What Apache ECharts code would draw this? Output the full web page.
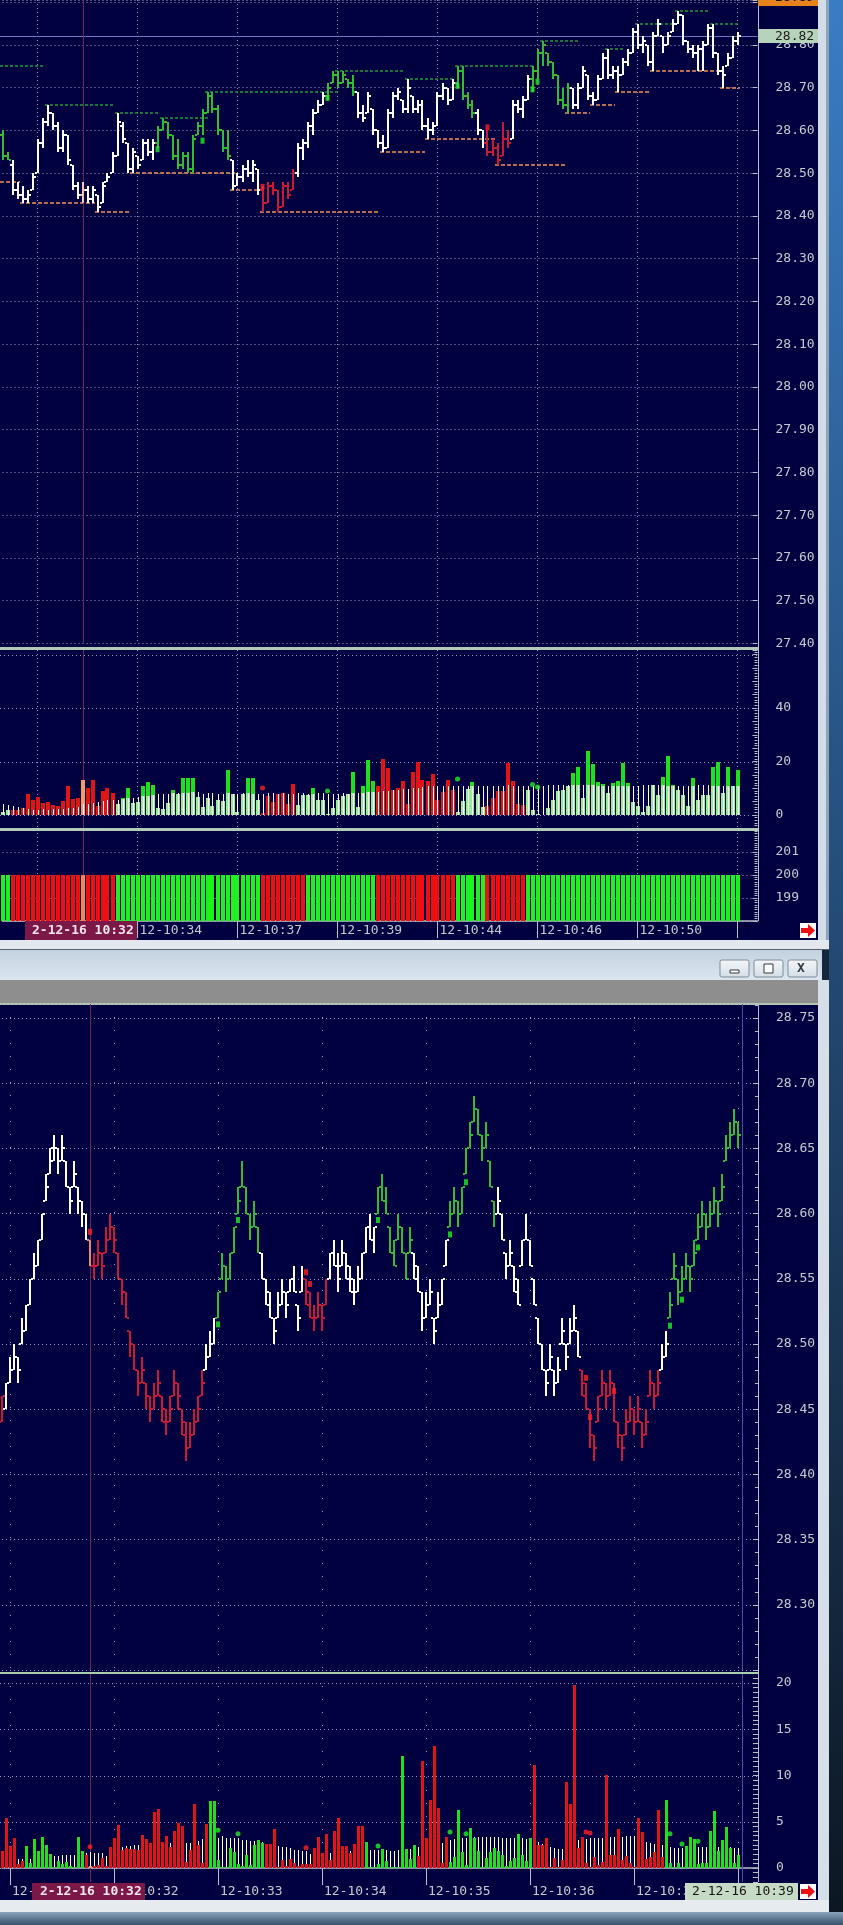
<!DOCTYPE html>
<html><head><meta charset="utf-8"><title>chart</title>
<script src="https://cdn.jsdelivr.net/npm/echarts@6/dist/echarts.min.js"></script>
<style>html,body{margin:0;padding:0;background:#13263a;overflow:hidden}#c{width:843px;height:1925px}</style>
</head><body><div id="c"></div><script>
// ===================== DATA =====================
// Top window: OHLC per bar [open, high, low, close]
const topOHLC = [
[28.59,28.60,28.53,28.54],[28.54,28.55,28.53,28.53],[28.52,28.53,28.45,28.46],[28.46,28.48,28.44,28.45],[28.45,28.47,28.43,28.44],
[28.44,28.46,28.43,28.45],[28.46,28.50,28.46,28.49],[28.50,28.58,28.50,28.57],[28.57,28.63,28.56,28.62],[28.62,28.66,28.61,28.64],
[28.64,28.64,28.60,28.61],[28.61,28.62,28.55,28.56],[28.56,28.60,28.55,28.59],[28.59,28.59,28.52,28.53],[28.52,28.52,28.46,28.47],
[28.47,28.48,28.44,28.45],[28.45,28.48,28.43,28.46],[28.46,28.47,28.43,28.44],[28.44,28.47,28.43,28.46],[28.45,28.45,28.41,28.42],
[28.43,28.48,28.43,28.47],[28.48,28.50,28.48,28.49],[28.50,28.55,28.50,28.54],[28.54,28.64,28.54,28.62],[28.61,28.62,28.57,28.58],
[28.57,28.57,28.50,28.51],[28.51,28.56,28.50,28.55],[28.54,28.54,28.51,28.52],[28.53,28.58,28.53,28.57],[28.57,28.58,28.54,28.55],
[28.55,28.58,28.53,28.57],[28.57,28.61,28.56,28.60],[28.60,28.63,28.60,28.62],[28.62,28.62,28.58,28.59],[28.59,28.59,28.53,28.54],
[28.54,28.58,28.51,28.52],[28.52,28.55,28.51,28.54],[28.54,28.55,28.50,28.51],[28.51,28.59,28.50,28.58],[28.59,28.62,28.59,28.61],
[28.61,28.65,28.59,28.64],[28.64,28.69,28.64,28.68],[28.68,28.69,28.64,28.65],[28.65,28.66,28.59,28.60],[28.60,28.60,28.55,28.56],
[28.56,28.60,28.53,28.54],[28.53,28.53,28.46,28.47],[28.47,28.50,28.47,28.49],[28.49,28.52,28.48,28.51],[28.51,28.53,28.49,28.50],
[28.50,28.53,28.48,28.52],[28.51,28.51,28.45,28.46],[28.46,28.47,28.41,28.43],[28.43,28.48,28.43,28.47],[28.47,28.48,28.45,28.46],
[28.46,28.46,28.41,28.42],[28.42,28.48,28.42,28.47],[28.47,28.48,28.44,28.45],[28.46,28.51,28.46,28.50],[28.50,28.57,28.49,28.56],
[28.56,28.58,28.53,28.57],[28.57,28.62,28.56,28.61],[28.61,28.65,28.59,28.64],[28.64,28.67,28.64,28.66],[28.66,28.69,28.66,28.68],
[28.68,28.71,28.67,28.70],[28.71,28.74,28.71,28.73],[28.73,28.74,28.70,28.71],[28.71,28.74,28.71,28.73],[28.72,28.72,28.70,28.71],
[28.71,28.73,28.68,28.69],[28.69,28.69,28.63,28.64],[28.64,28.66,28.62,28.63],[28.64,28.69,28.64,28.68],[28.65,28.65,28.59,28.60],
[28.60,28.60,28.56,28.57],[28.57,28.59,28.55,28.56],[28.56,28.65,28.56,28.64],[28.64,28.69,28.63,28.68],[28.68,28.70,28.67,28.69],
[28.67,28.67,28.64,28.65],[28.65,28.72,28.64,28.70],[28.68,28.68,28.64,28.65],[28.65,28.67,28.64,28.66],[28.66,28.67,28.60,28.61],
[28.61,28.63,28.58,28.60],[28.60,28.62,28.59,28.61],[28.61,28.69,28.61,28.68],[28.68,28.71,28.67,28.70],[28.70,28.70,28.66,28.67],
[28.67,28.72,28.67,28.71],[28.71,28.75,28.70,28.74],[28.74,28.75,28.67,28.68],[28.68,28.69,28.65,28.66],[28.66,28.67,28.63,28.64],
[28.64,28.65,28.59,28.60],[28.60,28.60,28.56,28.57],[28.57,28.60,28.54,28.55],[28.55,28.58,28.54,28.56],[28.56,28.57,28.52,28.53],
[28.54,28.62,28.54,28.58],[28.58,28.60,28.56,28.57],[28.58,28.67,28.58,28.66],[28.66,28.67,28.64,28.65],[28.65,28.68,28.63,28.67],
[28.67,28.73,28.67,28.72],[28.72,28.75,28.69,28.74],[28.74,28.79,28.72,28.78],[28.78,28.81,28.75,28.80],[28.78,28.78,28.75,28.76],
[28.76,28.76,28.72,28.73],[28.73,28.73,28.66,28.67],[28.67,28.70,28.65,28.66],[28.66,28.71,28.64,28.70],[28.70,28.70,28.65,28.66],
[28.66,28.71,28.65,28.70],[28.70,28.75,28.70,28.74],[28.73,28.73,28.67,28.68],[28.68,28.69,28.66,28.67],[28.67,28.73,28.67,28.72],
[28.72,28.78,28.72,28.77],[28.77,28.79,28.72,28.73],[28.73,28.75,28.72,28.74],[28.74,28.75,28.69,28.73],[28.73,28.77,28.73,28.76],
[28.76,28.79,28.75,28.78],[28.78,28.84,28.78,28.83],[28.83,28.85,28.79,28.80],[28.80,28.82,28.78,28.81],[28.80,28.80,28.75,28.76],
[28.76,28.83,28.74,28.82],[28.82,28.86,28.82,28.85],[28.82,28.82,28.78,28.80],[28.80,28.83,28.80,28.82],[28.83,28.86,28.83,28.85],
[28.85,28.88,28.85,28.87],[28.87,28.87,28.80,28.81],[28.81,28.81,28.78,28.79],[28.79,28.80,28.77,28.78],[28.78,28.80,28.74,28.79],
[28.79,28.81,28.74,28.80],[28.80,28.85,28.80,28.84],[28.84,28.85,28.77,28.78],[28.78,28.78,28.73,28.74],[28.74,28.75,28.70,28.73],
[28.75,28.78,28.75,28.77],[28.77,28.82,28.77,28.81],[28.81,28.83,28.80,28.82]
];
// bar colour runs (w white, g green, r red)
const topBarColorRuns = [['g',2],['w',29],['g',15],['w',6],['r',7],['w',6],['g',6],['w',20],['g',4],['w',2],['r',5],['w',4],['g',8],['w',34]];
// resistance (green dashed) and support (orange dashed): [fromBar, toBar, price]
const topResistance = [[0,8,28.75],[9,22,28.66],[23,31,28.64],[32,41,28.63],[41,67,28.69],[67,80,28.74],[81,90,28.72],[91,106,28.75],[108,115,28.81],[121,124,28.79],[127,134,28.85],[135,141,28.88],[142,147,28.85]];
const topSupport = [[0,3,28.48],[4,18,28.43],[19,25,28.41],[26,46,28.50],[46,51,28.46],[52,75,28.41],[76,84,28.55],[85,98,28.58],[99,112,28.52],[113,117,28.64],[118,122,28.66],[123,129,28.69],[130,143,28.74],[144,147,28.70]];
// signal markers [bar, price, colour]
const topMarkers = [[31,28.556,'g'],[40,28.576,'g'],[52,28.468,'r'],[65,28.676,'g'],[91,28.704,'g'],[97,28.607,'r'],[106,28.696,'g'],[107,28.714,'g']];
const topLastPrice = 28.82;
const topHighPrice = 28.89;
const topCursor = 16;
// top volume
const topVol = [1.2,2.0,1.8,1.8,2.5,7.8,5.5,6.8,4.6,4.9,
3.7,3.3,5.3,10.7,5.9,6.5,13.0,10.0,13.0,3.3,
9.0,10.0,8.4,4.3,6.2,10.0,4.6,4.9,11.0,12.3,
11.4,2.5,2.1,4.6,9.3,7.7,13.8,13.8,13.8,6.8,
3.0,6.2,3.3,5.8,5.3,17.0,8.0,1.2,7.8,14.0,
14.0,5.6,0.6,7.0,5.0,8.0,8.3,4.3,11.5,3.7,
7.4,7.4,10.2,5.8,5.6,0.3,2.5,5.6,7.0,8.0,
16.0,3.1,11.0,20.4,12.7,10.7,20.9,17.4,9.3,10.1,
12.7,4.0,16.0,19.8,13.2,12.7,15.2,5.8,8.6,13.0,
9.3,1.2,5.2,9.9,12.2,7.8,3.1,3.5,6.2,9.0,
9.0,19.4,12.7,4.0,3.7,9.5,1.9,0.3,0.1,2.5,
5.8,9.0,9.3,10.7,15.7,18.1,6.2,24.1,18.9,12.2,
11.5,8.3,12.0,12.7,19.5,12.0,4.9,3.3,1.2,3.3,
11.1,7.4,14.4,22.2,11.1,9.5,7.4,3.5,14.0,5.6,
7.4,7.4,18.1,19.9,8.3,18.1,10.7,16.9];
const topVolAvg = [4.3,3.7,3.3,3.0,2.8,2.1,1.9,1.9,2.1,1.9,
2.1,2.1,2.3,2.5,2.8,3.1,4.3,4.3,4.6,4.9,
5.2,5.6,5.6,5.8,6.0,6.4,6.5,6.7,7.0,7.2,
7.4,8.0,7.7,8.0,8.1,8.2,8.3,8.4,8.5,8.6,
8.0,8.1,8.1,8.0,8.0,8.2,8.0,8.0,8.1,8.1,
8.0,8.0,8.0,8.1,8.2,8.0,8.1,8.0,8.0,8.1,
8.1,8.0,8.0,8.1,8.1,7.9,8.0,8.0,8.1,8.0,
8.2,8.3,8.4,8.5,8.6,8.6,8.8,9.0,9.2,9.4,
9.6,9.8,10.0,10.2,10.5,10.7,10.8,10.9,10.9,11.0,
11.0,11.0,11.0,10.9,10.9,10.8,10.8,10.9,10.9,11.0,
11.0,11.1,11.0,11.0,10.8,10.8,10.9,11.0,11.0,11.1,
11.1,11.2,11.2,11.3,11.3,11.2,11.2,11.1,11.1,11.0,
11.0,11.0,10.9,10.9,10.8,10.8,10.9,11.0,11.1,11.1,
11.2,11.2,11.1,11.0,11.0,10.9,10.9,11.0,11.0,11.1,
11.1,11.1,11.0,11.0,10.9,10.9,10.8,10.8];
const topVolColorRuns = [['g',2],['r',21],['g',29],['r',7],['g',16],['r',16],['g',6],['r',8],['g',43]];
const topVolDots = [[52,10.1,'r'],[65,9.0,'g'],[91,13.5,'g'],[106,11.4,'g'],[107,10.5,'g']];
const topVolGridVals = [0,20,40,60];
// top state band (value 200)
const topBandColorRuns = [['g',2],['r',21],['g',29],['r',9],['g',14],['r',16],['g',6],['r',8],['g',43]];
const topBandLevel = 200;
// top time axis: [bar, label]
const topTimeLabels = [[7,'12-10:32'],[27,'12-10:34'],[47,'12-10:37'],[67,'12-10:39'],[87,'12-10:44'],[107,'12-10:46'],[127,'12-10:50']];
const topGridBars = [7,27,47,67,87,107,127,147];
const topCursorLabel = '2-12-16 10:32';

// Bottom window
const botOHLC = [
[28.44,28.46,28.44,28.46],[28.45,28.47,28.45,28.47],[28.47,28.49,28.47,28.48],[28.48,28.50,28.48,28.49],[28.49,28.49,28.47,28.48],
[28.50,28.52,28.50,28.51],[28.51,28.53,28.51,28.53],[28.53,28.55,28.53,28.55],[28.55,28.57,28.55,28.56],[28.56,28.58,28.56,28.58],
[28.58,28.60,28.58,28.60],[28.61,28.63,28.61,28.62],[28.63,28.65,28.63,28.65],[28.64,28.66,28.64,28.65],[28.65,28.65,28.63,28.64],
[28.64,28.66,28.64,28.65],[28.64,28.64,28.62,28.62],[28.62,28.62,28.60,28.61],[28.62,28.64,28.62,28.63],[28.62,28.62,28.60,28.61],
[28.61,28.61,28.59,28.60],[28.60,28.60,28.58,28.58],[28.58,28.58,28.56,28.56],[28.56,28.57,28.55,28.56],[28.56,28.58,28.56,28.57],
[28.57,28.57,28.55,28.56],[28.57,28.59,28.57,28.58],[28.58,28.60,28.58,28.59],[28.59,28.59,28.57,28.58],[28.57,28.57,28.55,28.55],
[28.55,28.55,28.53,28.54],[28.54,28.54,28.52,28.52],[28.51,28.51,28.49,28.50],[28.50,28.50,28.48,28.48],[28.48,28.48,28.46,28.47],
[28.47,28.49,28.47,28.48],[28.47,28.47,28.45,28.46],[28.46,28.46,28.44,28.45],[28.45,28.47,28.45,28.46],[28.46,28.48,28.46,28.47],
[28.46,28.46,28.44,28.44],[28.45,28.45,28.43,28.44],[28.44,28.46,28.44,28.45],[28.46,28.48,28.46,28.47],[28.47,28.47,28.45,28.46],
[28.45,28.45,28.43,28.43],[28.44,28.44,28.41,28.42],[28.42,28.44,28.42,28.43],[28.43,28.45,28.43,28.44],[28.44,28.46,28.44,28.45],
[28.46,28.48,28.46,28.47],[28.48,28.50,28.48,28.49],[28.49,28.51,28.49,28.50],[28.50,28.52,28.50,28.52],[28.52,28.54,28.52,28.54],
[28.55,28.57,28.55,28.56],[28.56,28.56,28.54,28.55],[28.55,28.57,28.55,28.57],[28.57,28.59,28.57,28.59],[28.60,28.62,28.60,28.61],
[28.62,28.64,28.62,28.62],[28.62,28.62,28.60,28.60],[28.60,28.60,28.58,28.59],[28.59,28.61,28.59,28.60],[28.59,28.59,28.57,28.57],
[28.57,28.57,28.55,28.55],[28.55,28.55,28.53,28.53],[28.54,28.54,28.52,28.52],[28.52,28.52,28.50,28.51],[28.52,28.54,28.52,28.53],
[28.53,28.55,28.53,28.54],[28.54,28.54,28.52,28.53],[28.54,28.55,28.54,28.55],[28.55,28.56,28.54,28.54],[28.53,28.53,28.51,28.52],
[28.54,28.56,28.54,28.55],[28.55,28.55,28.53,28.53],[28.54,28.54,28.52,28.52],[28.52,28.53,28.51,28.52],[28.52,28.54,28.52,28.53],
[28.53,28.53,28.51,28.52],[28.53,28.55,28.53,28.55],[28.55,28.57,28.55,28.57],[28.57,28.58,28.56,28.56],[28.56,28.57,28.54,28.55],
[28.56,28.58,28.56,28.57],[28.57,28.57,28.55,28.55],[28.56,28.56,28.54,28.54],[28.55,28.55,28.53,28.54],[28.54,28.56,28.54,28.55],
[28.55,28.57,28.55,28.57],[28.57,28.59,28.57,28.59],[28.59,28.60,28.58,28.58],[28.58,28.59,28.57,28.59],[28.60,28.62,28.60,28.62],
[28.62,28.63,28.61,28.61],[28.61,28.62,28.60,28.60],[28.59,28.59,28.57,28.57],[28.57,28.58,28.56,28.56],[28.58,28.60,28.58,28.59],
[28.59,28.59,28.57,28.57],[28.57,28.57,28.55,28.55],[28.57,28.59,28.57,28.58],[28.57,28.57,28.55,28.55],[28.56,28.56,28.54,28.54],
[28.54,28.54,28.51,28.52],[28.52,28.54,28.52,28.53],[28.53,28.55,28.53,28.54],[28.52,28.52,28.50,28.51],[28.52,28.54,28.52,28.53],
[28.53,28.55,28.53,28.55],[28.56,28.58,28.56,28.58],[28.59,28.61,28.59,28.60],[28.60,28.62,28.60,28.61],[28.61,28.61,28.59,28.60],
[28.60,28.62,28.60,28.62],[28.63,28.65,28.63,28.65],[28.65,28.67,28.65,28.66],[28.67,28.69,28.67,28.68],[28.68,28.68,28.66,28.66],
[28.66,28.66,28.64,28.65],[28.65,28.67,28.65,28.66],[28.64,28.64,28.62,28.62],[28.61,28.61,28.59,28.60],[28.60,28.62,28.60,28.61],
[28.60,28.60,28.58,28.58],[28.57,28.57,28.55,28.56],[28.56,28.58,28.56,28.57],[28.56,28.56,28.54,28.54],[28.55,28.55,28.53,28.53],
[28.56,28.58,28.56,28.58],[28.58,28.60,28.58,28.58],[28.58,28.58,28.56,28.56],[28.55,28.55,28.53,28.53],[28.52,28.52,28.50,28.50],
[28.50,28.50,28.48,28.48],[28.48,28.48,28.46,28.47],[28.48,28.50,28.48,28.49],[28.48,28.48,28.46,28.47],[28.47,28.49,28.47,28.48],
[28.50,28.52,28.50,28.51],[28.50,28.50,28.48,28.49],[28.50,28.52,28.50,28.51],[28.51,28.53,28.51,28.52],[28.51,28.51,28.49,28.49],
[28.48,28.48,28.46,28.46],[28.47,28.47,28.45,28.45],[28.45,28.45,28.42,28.43],[28.43,28.43,28.41,28.42],[28.44,28.46,28.44,28.45],
[28.46,28.48,28.46,28.47],[28.47,28.47,28.45,28.46],[28.46,28.48,28.46,28.47],[28.47,28.47,28.44,28.44],[28.44,28.44,28.42,28.43],
[28.43,28.43,28.41,28.42],[28.43,28.45,28.43,28.44],[28.44,28.46,28.44,28.45],[28.45,28.45,28.43,28.44],[28.44,28.46,28.44,28.45],
[28.44,28.44,28.42,28.43],[28.43,28.45,28.43,28.44],[28.46,28.48,28.46,28.47],[28.47,28.47,28.45,28.46],[28.46,28.48,28.46,28.47],
[28.48,28.50,28.48,28.49],[28.49,28.51,28.49,28.50],[28.52,28.54,28.52,28.53],[28.55,28.57,28.55,28.56],[28.55,28.55,28.53,28.54],
[28.54,28.56,28.54,28.55],[28.55,28.57,28.55,28.56],[28.56,28.56,28.54,28.55],[28.56,28.58,28.56,28.57],[28.58,28.60,28.58,28.59],
[28.59,28.61,28.59,28.60],[28.60,28.60,28.58,28.59],[28.59,28.61,28.59,28.60],[28.60,28.62,28.60,28.61],[28.61,28.61,28.59,28.60],
[28.61,28.63,28.61,28.62],[28.64,28.66,28.64,28.65],[28.65,28.67,28.65,28.66],[28.66,28.68,28.66,28.67],[28.67,28.67,28.65,28.66]
];
const botBarColorRuns = [['r',1],['w',21],['h',1],['r',28],['w',3],['g',11],['w',11],['r',6],['w',12],['g',9],['w',9],['g',12],['w',21],['r',20],['w',2],['g',18]];
const botMarkers = [[22,28.586,'r'],[54,28.515,'g'],[59,28.595,'g'],[76,28.555,'r'],[77,28.546,'r'],[94,28.595,'g'],[112,28.584,'g'],[116,28.624,'g'],[146,28.474,'r'],[147,28.444,'r'],[153,28.464,'r'],[167,28.514,'g'],[170,28.534,'g'],[174,28.574,'g']];
const botCursor = 22;
const botNowBar = 185;
const botVol = [1.8,5.4,2.4,3.2,0.4,0.8,2.4,0.5,3.1,1.9,
3.4,2.5,1.5,0.1,0.8,0.4,0.7,0.2,0.1,3.4,
1.9,1.4,0.2,0.2,0.3,1.1,0.2,2.3,3.2,4.7,
2.0,2.2,2.1,2.1,2.0,3.6,3.1,2.7,6.1,6.4,
2.8,3.5,2.3,4.0,4.9,4.6,0.7,2.0,6.9,2.5,
0.5,4.8,7.2,7.2,0.9,0.1,0.1,2.2,1.7,0.4,
0.2,1.4,0.3,2.5,3.0,2.7,2.6,2.6,4.2,0.1,
0.9,0.2,1.0,0.5,0.2,0.4,0.4,0.4,2.2,3.4,
1.6,3.7,0.9,4.0,5.4,2.4,2.4,1.6,2.6,4.6,
4.6,2.8,0.1,0.1,0.4,2.1,0.8,0.1,0.1,0.1,
12.1,2.1,1.0,2.5,1.3,11.6,3.3,7.4,13.2,6.5,
0.5,3.4,0.7,1.2,6.3,1.7,0.3,4.3,3.2,1.9,
0.1,1.1,1.7,2.2,1.9,1.4,0.2,0.8,1.1,3.7,
1.4,0.8,3.2,11.1,2.5,2.5,3.2,0.1,1.1,0.1,
0.9,9.3,6.9,19.8,2.2,3.4,0.5,0.1,1.2,0.3,
0.7,10.1,1.4,1.4,4.2,0.9,1.3,0.5,0.1,5.4,
3.9,1.0,1.2,1.7,6.3,1.2,7.4,0.5,0.1,0.5,
0.1,2.4,3.4,3.1,0.4,0.6,0.6,4.0,6.2,1.9,
3.0,4.4,2.2,0.6,1.4];
const botVolAvg = [1.0,1.0,1.0,1.0,1.0,1.0,1.0,1.0,1.0,1.0,1.0,1.0,1.0,
1.3,1.3,1.4,1.4,1.4,1.4,1.5,1.5,1.6,1.7,1.6,1.6,1.6,1.3,
2.0,2.1,2.2,2.3,2.4,2.4,2.5,2.5,2.5,2.6,2.6,2.6,2.7,2.7,2.7,2.7,2.8,2.8,2.8,
2.7,2.7,2.8,2.9,3.1,3.1,
3.2,3.3,3.3,3.5,3.3,3.3,3.2,3.2,3.0,3.0,2.9,2.9,2.8,2.8,
2.6,2.5,2.5,2.4,2.3,2.3,2.2,2.0,2.0,1.8,1.8,1.5,
1.6,1.6,1.6,1.6,1.6,1.7,1.8,1.8,1.9,1.9,2.0,2.0,2.0,
2.0,2.0,2.0,2.0,2.0,2.0,1.9,1.9,2.0,2.0,2.0,2.1,2.2,2.3,
2.5,2.6,2.7,2.7,2.7,2.7,2.8,
3.0,3.1,3.2,3.3,3.3,3.3,3.4,3.4,3.4,3.4,3.4,3.4,3.4,3.3,3.2,3.2,3.2,3.2,3.2,3.1,3.1,
3.0,2.8,2.6,2.4,2.3,2.2,2.1,2.1,
2.4,2.6,2.8,3.0,3.1,3.1,3.2,
3.2,3.3,3.3,3.4,3.4,3.4,3.4,3.4,3.5,3.5,3.5,
3.2,3.0,2.8,2.7,2.6,2.5,2.5,2.4,
2.3,2.2,2.2,2.2,2.2,2.2,2.2,2.3,2.3,2.3,2.3,2.3,2.3,2.3,2.3,2.3,2.2,2.2];
const botVolColorRuns = [['r',6],['g',15],['r',1],['h',1],['r',29],['g',14],['r',25],['g',13],['r',8],['g',21],['r',33],['g',19]];
const botVolDots = [[22,2.3,'r'],[54,4.1,'g'],[59,3.7,'g'],[76,2.2,'r'],[94,2.4,'g'],[112,3.9,'g'],[116,3.7,'g'],[146,3.9,'r'],[147,3.8,'r'],[167,3.7,'g'],[170,2.6,'g'],[174,2.9,'g']];
const botVolGridVals = [0,5,10,15,20];
const botTimeLabels = [[2,'12-10:31'],[28,'12-10:32'],[54,'12-10:33'],[80,'12-10:34'],[106,'12-10:35'],[132,'12-10:36'],[158,'12-10:37']];
const botGridBars = [2,28,54,80,106,132,158,184];
const botCursorLabel = '2-12-16 10:32';
const botNowLabel = '2-12-16 10:39';

// ===================== STYLE =====================
const NAVY = '#000040';
const MONO = "'DejaVu Sans Mono','Liberation Mono',monospace";
const AXIS_TXT = '#c6cacf';
const DOT = '#9a9ac2';
const AXLINE = '#b6bec6';
const barColors = {w:'#ffffff', g:'#34bb34', r:'#cc1a32', h:'#f2c4bc'};
const botBarColors = {w:'#ffffff', g:'#34bb34', r:'#cc1a32', h:'#e88a72'};
const volColors = {g:'#1fe01f', r:'#e21414', h:'#f39a6a'};
const PALE = '#98ea98';
const bandColors = {g:'#1ff01f', r:'#ee1010', h:'#f5845a'};
const dotColors = {g:'#22ee22', r:'#ff2020'};

function expand(r){const o=[];r.forEach(([c,n])=>{for(let k=0;k<n;k++)o.push(c);});return o;}
const topBarCodes = expand(topBarColorRuns); topBarCodes[topCursor]='h';
const topVolCodes = expand(topVolColorRuns); topVolCodes[topCursor]='h';
const topBandCodes = expand(topBandColorRuns); topBandCodes[topCursor]='h';
const botBarCodes = expand(botBarColorRuns);
const botVolCodes = expand(botVolColorRuns);

const topCats = Array.from({length:152},(_,i)=>String(i));
const botCats = Array.from({length:190},(_,i)=>String(i));
const topLabelMap = {}; topTimeLabels.forEach(([i,t])=>topLabelMap[i]=t);
const botLabelMap = {}; botTimeLabels.forEach(([i,t])=>botLabelMap[i]=t);
const topGridSet = new Set(topGridBars), botGridSet = new Set(botGridBars);

// ===================== RENDERERS =====================
function ohlcRender(codes, colors, tick){
  return function(params, api){
    const i = api.value(0);
    const ph = api.coord([i, api.value(2)]), pl = api.coord([i, api.value(3)]);
    const po = api.coord([i, api.value(1)]), pc = api.coord([i, api.value(4)]);
    const cx = Math.round(ph[0]);
    const yh = Math.round(ph[1]), yl = Math.round(pl[1]);
    const yo = Math.round(po[1]), yc = Math.round(pc[1]);
    const fill = colors[codes[params.dataIndex]];
    return {type:'group', children:[
      {type:'rect', shape:{x:cx-1,y:yh,width:2,height:Math.max(2,yl-yh)}, style:{fill}},
      {type:'rect', shape:{x:cx-1-tick,y:yo-1,width:tick,height:2}, style:{fill}},
      {type:'rect', shape:{x:cx+1,y:yc-1,width:tick,height:2}, style:{fill}}
    ]};
  };
}
function srRender(color, dash){
  return function(params, api){
    const a = api.coord([api.value(0), api.value(2)]);
    const b = api.coord([api.value(1), api.value(2)]);
    const y = Math.round(a[1]);
    return {type:'line', shape:{x1:a[0]-2.5,y1:y,x2:b[0]+2.5,y2:y}, style:{stroke:color,lineWidth:1.5,lineDash:dash}};
  };
}
function vLineRender(color){
  return function(params, api){
    const cs = params.coordSys;
    const x = Math.round(api.coord([api.value(0), api.value(1)])[0]) + 0.5;
    return {type:'line', shape:{x1:x,y1:cs.y,x2:x,y2:cs.y+cs.height}, style:{stroke:color,lineWidth:1}};
  };
}
function hLineRender(color, dash){
  return function(params, api){
    const cs = params.coordSys;
    const y = Math.round(api.coord([0, api.value(1)])[1]) + 0.5;
    return {type:'line', shape:{x1:0,y1:y,x2:cs.x+cs.width,y2:y}, style:{stroke:color,lineWidth:1,lineDash:dash}};
  };
}
function volTopRender(params, api){
  const i = api.value(0), v = api.value(1), w = api.value(2);
  const p0 = api.coord([i, 0]); const cx = Math.round(p0[0]); const y0 = Math.round(p0[1]);
  const yv = Math.round(api.coord([i, v])[1]); const yw = Math.round(api.coord([i, w])[1]);
  const code = topVolCodes[params.dataIndex];
  const ch = [{type:'rect', shape:{x:cx-2,y:yv,width:4,height:y0-yv}, style:{fill:volColors[code]}}];
  if (code === 'g') {
    const yp = Math.round(api.coord([i, Math.min(v, w)])[1]);
    ch.push({type:'rect', shape:{x:cx-2,y:yp,width:4,height:y0-yp}, style:{fill:PALE}});
  }
  ch.push({type:'rect', shape:{x:cx,y:yw,width:1,height:y0-yw}, style:{fill:'#ffffff'}});
  return {type:'group', children:ch};
}
function volBotRender(params, api){
  const i = api.value(0), v = api.value(1), w = api.value(2);
  const p0 = api.coord([i, 0]); const cx = Math.round(p0[0]); const y0 = Math.round(p0[1]);
  const yv = Math.round(api.coord([i, v])[1]); const yw = Math.round(api.coord([i, w])[1]);
  const code = botVolCodes[params.dataIndex];
  return {type:'group', children:[
    {type:'rect', shape:{x:cx,y:yw,width:1,height:y0-yw}, style:{fill:'#ffffff'}},
    {type:'rect', shape:{x:cx-1,y:yv,width:3,height:Math.max(1,y0-yv)}, style:{fill:volColors[code]}}
  ]};
}
function bandRender(params, api){
  const i = api.value(0);
  const a = api.coord([i, api.value(1)]); const b = api.coord([i, 198]);
  const cx = Math.round(a[0]);
  return {type:'rect', shape:{x:cx-2,y:Math.round(a[1]),width:4,height:Math.round(b[1])-Math.round(a[1])}, style:{fill:bandColors[topBandCodes[params.dataIndex]]}};
}

// ===================== AXES =====================
function xAx(g, cats, gridSet, labelMap, showAxis, dotType){
  return {type:'category', gridIndex:g, data:cats, boundaryGap:false,
    axisLine:{show:showAxis, lineStyle:{color:AXLINE,width:1.5}},
    axisTick:{show:showAxis, interval:(i)=>gridSet.has(i), length:17, lineStyle:{color:AXLINE}},
    axisLabel:{show:showAxis, interval:(i)=>labelMap[i]!==undefined, formatter:(v,i)=>labelMap[i]||'',
      align:'left', margin:3, padding:[0,0,0,2], color:AXIS_TXT, fontFamily:MONO, fontSize:13},
    splitLine:{show:true, interval:(i)=>gridSet.has(i), lineStyle:{color:DOT,width:1,type:dotType}}
  };
}
function yAx(g, min, max, interval, fmt, split, minor){
  return {type:'value', gridIndex:g, position:'right', min, max, interval,
    axisLine:{show:false},
    axisTick:{show:true, inside:true, length:5, lineStyle:{color:AXLINE}},
    minorTick:{show:!!minor, splitNumber:minor||5, length:3, lineStyle:{color:AXLINE}},
    axisLabel:{margin:18, color:AXIS_TXT, fontFamily:MONO, fontSize:13, formatter:fmt, showMinLabel:true, showMaxLabel:true},
    splitLine:{show:split, lineStyle:{color:DOT,width:1,type:[1,3]}}
  };
}
const near = (v, step) => Math.abs(v/step - Math.round(v/step)) < 1e-6;

// ===================== GRAPHICS =====================
function textEl(x, y, text, fill, z, weight){
  return {type:'text', x, y, z, style:{text, fill, font:(weight||'normal')+' 13px '+MONO, align:'left', textAlign:'left', verticalAlign:'middle', textVerticalAlign:'middle'}};
}
function arrow(x, y){
  return {type:'group', x, y, z:60, children:[
    {type:'rect', shape:{x:0,y:0,width:16,height:15}, style:{fill:'#ffffff'}},
    {type:'polygon', shape:{points:[[1,5],[8,5],[8,1],[15,7.5],[8,14],[8,10],[1,10]]}, style:{fill:'#ee1111'}}
  ]};
}
function btn(x, kind){
  const ch = [{type:'rect', shape:{x:0,y:0,width:29,height:17,r:2}, style:{fill:{type:'linear',x:0,y:0,x2:0,y2:1,colorStops:[{offset:0,color:'#f4f7fa'},{offset:1,color:'#d4dde6'}]}, stroke:'#7d8c9c', lineWidth:1}}];
  if (kind==='min') ch.push({type:'rect', shape:{x:10,y:10,width:9,height:3}, style:{fill:'#ffffff', stroke:'#303840', lineWidth:1}});
  if (kind==='max') ch.push({type:'rect', shape:{x:10,y:4,width:9,height:9}, style:{fill:'#ffffff', stroke:'#303840', lineWidth:1}});
  if (kind==='close') ch.push({type:'text', x:9, y:2, style:{text:'X', fill:'#303840', font:'bold 13px '+MONO}});
  return {type:'group', x, y:960, z:60, children:ch};
}
const vgrad = (a,b)=>({type:'linear',x:0,y:0,x2:0,y2:1,colorStops:[{offset:0,color:a},{offset:1,color:b}]});
const graphics = [
  // desktop strip on the right
  {type:'rect', z:-20, shape:{x:829,y:0,width:14,height:1925}, style:{fill:vgrad('#3a7cc4','#0c1622')}},
  {type:'rect', z:-20, shape:{x:0,y:1912,width:843,height:13}, style:{fill:vgrad('#8aa4bd','#36506a')}},
  // top window
  {type:'rect', z:-10, shape:{x:0,y:0,width:818,height:940}, style:{fill:NAVY}},
  {type:'rect', z:-10, shape:{x:818,y:0,width:11,height:950}, style:{fill:'#d3dde7'}},
  {type:'rect', z:-10, shape:{x:826,y:0,width:3,height:950}, style:{fill:'#8ea4ba'}},
  {type:'rect', z:-10, shape:{x:0,y:940,width:829,height:9}, style:{fill:'#e3e8ee'}},
  {type:'rect', z:-10, shape:{x:0,y:949,width:829,height:1}, style:{fill:'#56606a'}},
  // bottom window chrome
  {type:'rect', z:-10, shape:{x:0,y:950,width:822,height:30}, style:{fill:vgrad('#c3d1df','#dce6f0')}},
  {type:'rect', z:-10, shape:{x:0,y:980,width:822,height:23}, style:{fill:'#8e8e8e'}},
  {type:'rect', z:-10, shape:{x:0,y:1003,width:818,height:2}, style:{fill:'#b3c7b7'}},
  {type:'rect', z:-10, shape:{x:0,y:1005,width:818,height:895}, style:{fill:NAVY}},
  {type:'rect', z:-10, shape:{x:818,y:980,width:11,height:932}, style:{fill:'#d6dfe8'}},
  {type:'rect', z:-10, shape:{x:0,y:1900,width:829,height:12}, style:{fill:'#e6ebf0'}},
  btn(720,'min'), btn(754,'max'), btn(788,'close'),
  // axis lines and separators
  {type:'line', z:5, shape:{x1:758.5,y1:0,x2:758.5,y2:921}, style:{stroke:AXLINE,lineWidth:1}},
  {type:'line', z:5, shape:{x1:758.5,y1:1005,x2:758.5,y2:1882}, style:{stroke:AXLINE,lineWidth:1}},
  {type:'rect', z:5, shape:{x:0,y:647,width:759,height:3}, style:{fill:'#b2cab9'}},
  {type:'rect', z:5, shape:{x:0,y:828,width:759,height:3}, style:{fill:'#b2cab9'}},
  {type:'rect', z:5, shape:{x:0,y:1672,width:759,height:2}, style:{fill:'#a8d0b0'}},
  // price flags on the top axis
  {type:'rect', z:50, shape:{x:758,y:-8,width:60,height:14}, style:{fill:'#e8821a'}},
  textEl(775, -2, topHighPrice.toFixed(2), '#1a1a1a', 51),
  {type:'rect', z:50, shape:{x:758,y:29,width:60,height:14}, style:{fill:'#b7d3bb'}},
  textEl(775, 36.5, topLastPrice.toFixed(2), '#1a1a1a', 51),
  // cursor / time boxes
  {type:'rect', z:50, shape:{x:25,y:921,width:112,height:19}, style:{fill:'#7c1848'}},
  textEl(32, 930.5, topCursorLabel, '#f6e6ee', 51, 'bold'),
  {type:'rect', z:50, shape:{x:32,y:1883,width:113,height:17}, style:{fill:'#7c1848'}},
  textEl(40, 1891.5, botCursorLabel, '#f6e6ee', 51, 'bold'),
  {type:'rect', z:50, shape:{x:685,y:1883,width:113,height:17}, style:{fill:'#c6dac6'}},
  textEl(692, 1891.5, botNowLabel, '#141414', 51),
  arrow(800, 923), arrow(800, 1884)
];

// ===================== OPTION =====================
const option = {
  animation:false,
  backgroundColor:'#13263a',
  textStyle:{fontFamily:MONO},
  graphic:{elements:graphics},
  grid:[
    {left:2.5, top:0, width:755, height:643.5},
    {left:2.5, top:650, width:755, height:178.4},
    {left:2.5, top:829, width:755, height:92},
    {left:2, top:1004, width:756, height:666},
    {left:2, top:1673, width:756, height:209}
  ],
  xAxis:[
    xAx(0, topCats, topGridSet, topLabelMap, false, [1,3]),
    xAx(1, topCats, topGridSet, topLabelMap, false, [1,3]),
    xAx(2, topCats, topGridSet, topLabelMap, true, [1,3]),
    xAx(3, botCats, botGridSet, botLabelMap, false, [1,12]),
    xAx(4, botCats, botGridSet, botLabelMap, true, [1,12])
  ],
  yAxis:[
    yAx(0, 27.4, 28.905, 0.1, v => (near(v,0.1) && v < 28.85) ? v.toFixed(2) : '', true),
    yAx(1, -5, 61.7, 5, v => (v===0||v===20||v===40) ? String(v) : '', false, 5),
    yAx(2, 198, 202, 1, v => (v>=199 && v<=201) ? String(v) : '', true, 10),
    yAx(3, 28.25, 28.7607, 0.05, v => (near(v,0.05) && v > 28.26 && v < 28.755) ? v.toFixed(2) : '', true, 5),
    yAx(4, -1.5, 21.08, 0.5, v => (near(v,5) && v >= 0 && v <= 20) ? String(Math.round(v)) : '', false)
  ],
  series:[
    // ---- top price
    {type:'custom', xAxisIndex:0, yAxisIndex:0, z:3, renderItem:hLineRender('#7474c4', null), data:[[0, topLastPrice]], encode:{x:0,y:1}},
    {type:'custom', xAxisIndex:0, yAxisIndex:0, z:3, renderItem:srRender('#1f9a3a',[3,2]), data:topResistance, encode:{x:0,y:2}},
    {type:'custom', xAxisIndex:0, yAxisIndex:0, z:3, renderItem:srRender('#f0905a',[4,2]), data:topSupport, encode:{x:0,y:2}},
    {type:'custom', xAxisIndex:0, yAxisIndex:0, z:3, renderItem:vLineRender('#7a1f52'), data:[[topCursor, 28]], encode:{x:0,y:1}},
    {type:'custom', xAxisIndex:0, yAxisIndex:0, z:4, renderItem:ohlcRender(topBarCodes, barColors, 2),
      data:topOHLC.map((r,i)=>[i, r[0], r[1], r[2], r[3]]), encode:{x:0,y:[1,2,3,4]}},
    {type:'scatter', xAxisIndex:0, yAxisIndex:0, z:5, symbol:'rect', symbolSize:[4,6],
      data:topMarkers.map(m=>({value:[m[0], m[1]], itemStyle:{color:dotColors[m[2]]}}))},
    // ---- top volume
    {type:'custom', xAxisIndex:1, yAxisIndex:1, z:2, renderItem:hLineRender(DOT,[1,3]), data:topVolGridVals.map(v=>[0,v]), encode:{x:0,y:1}},
    {type:'custom', xAxisIndex:1, yAxisIndex:1, z:3, renderItem:vLineRender('#7a1f52'), data:[[topCursor, 0]], encode:{x:0,y:1}},
    {type:'custom', xAxisIndex:1, yAxisIndex:1, z:4, renderItem:volTopRender,
      data:topVol.map((v,i)=>[i, v, topVolAvg[i]]), encode:{x:0,y:1}},
    {type:'scatter', xAxisIndex:1, yAxisIndex:1, z:5, symbol:'circle', symbolSize:5,
      data:topVolDots.map(m=>({value:[m[0], m[1]], itemStyle:{color:dotColors[m[2]]}}))},
    // ---- top band
    {type:'custom', xAxisIndex:2, yAxisIndex:2, z:3, renderItem:vLineRender('#7a1f52'), data:[[topCursor, 200]], encode:{x:0,y:1}},
    {type:'custom', xAxisIndex:2, yAxisIndex:2, z:4, renderItem:bandRender,
      data:topBandCodes.map((c,i)=>[i, topBandLevel]), encode:{x:0,y:1}},
    // ---- bottom price
    {type:'custom', xAxisIndex:3, yAxisIndex:3, z:3, renderItem:vLineRender('#7a1f52'), data:[[botCursor, 28.5]], encode:{x:0,y:1}},
    {type:'custom', xAxisIndex:3, yAxisIndex:3, z:3, renderItem:vLineRender('#4c4ca0'), data:[[botNowBar, 28.5]], encode:{x:0,y:1}},
    {type:'custom', xAxisIndex:3, yAxisIndex:3, z:4, renderItem:ohlcRender(botBarCodes, botBarColors, 2),
      data:botOHLC.map((r,i)=>[i, r[0], r[1], r[2], r[3]]), encode:{x:0,y:[1,2,3,4]}},
    {type:'scatter', xAxisIndex:3, yAxisIndex:3, z:5, symbol:'rect', symbolSize:[4,6],
      data:botMarkers.map(m=>({value:[m[0], m[1]], itemStyle:{color:dotColors[m[2]]}}))},
    // ---- bottom volume
    {type:'custom', xAxisIndex:4, yAxisIndex:4, z:2, renderItem:hLineRender(DOT,[1,3]), data:botVolGridVals.map(v=>[0,v]), encode:{x:0,y:1}},
    {type:'custom', xAxisIndex:4, yAxisIndex:4, z:3, renderItem:vLineRender('#7a1f52'), data:[[botCursor, 0]], encode:{x:0,y:1}},
    {type:'custom', xAxisIndex:4, yAxisIndex:4, z:3, renderItem:vLineRender('#4c4ca0'), data:[[botNowBar, 0]], encode:{x:0,y:1}},
    {type:'custom', xAxisIndex:4, yAxisIndex:4, z:4, renderItem:volBotRender,
      data:botVol.map((v,i)=>[i, v, botVolAvg[i]]), encode:{x:0,y:1}},
    {type:'scatter', xAxisIndex:4, yAxisIndex:4, z:5, symbol:'circle', symbolSize:5,
      data:botVolDots.map(m=>({value:[m[0], m[1]], itemStyle:{color:dotColors[m[2]]}}))}
  ]
};
const chart = echarts.init(document.getElementById('c'), null, {renderer:'canvas'});
chart.setOption(option);
</script></body></html>
